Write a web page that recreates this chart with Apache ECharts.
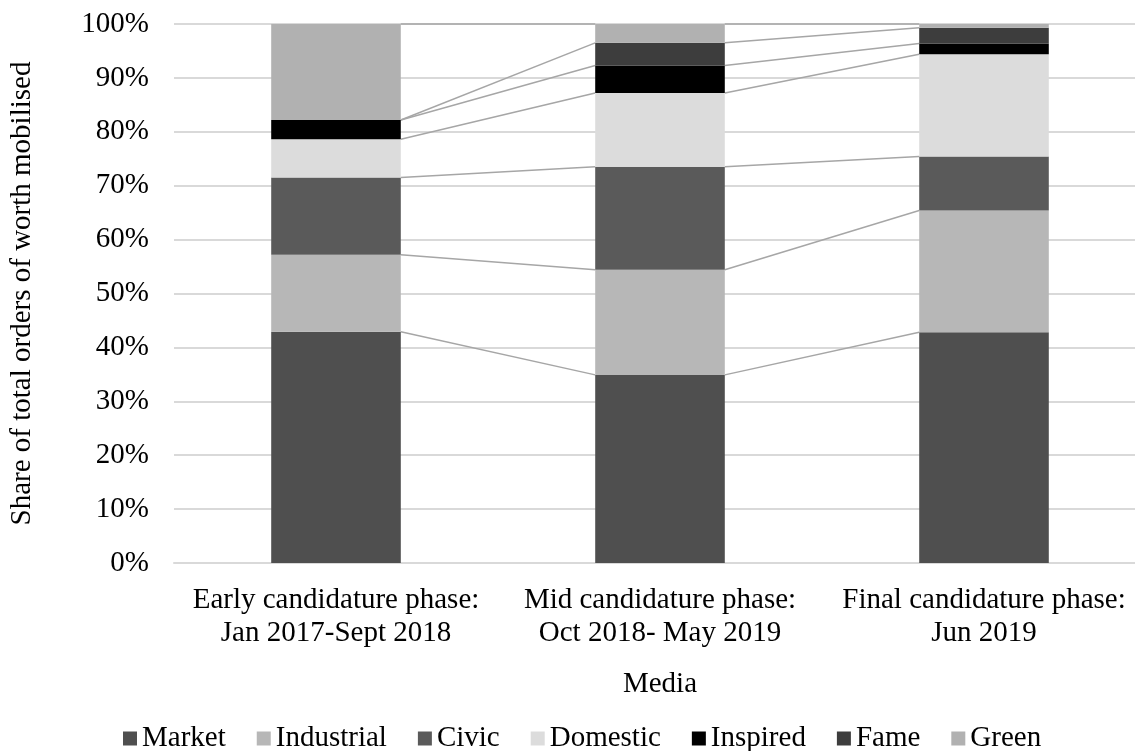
<!DOCTYPE html>
<html>
<head>
<meta charset="utf-8">
<script src="https://cdn.jsdelivr.net/npm/echarts@6/dist/echarts.min.js"></script>
<style>
  html, body { margin: 0; padding: 0; background: #fff; overflow: hidden; }
  #chart { width: 1150px; height: 751px; }
</style>
</head>
<body>
<div id="chart"></div>
<script>
// Candidature phases (x-axis categories)
const categories = [
  'Early candidature phase:\nJan 2017-Sept 2018',
  'Mid candidature phase:\nOct 2018- May 2019',
  'Final candidature phase:\nJun 2019'
];

// Share (%) of each order of worth per phase, stacked bottom to top
const seriesNames = ['Market', 'Industrial', 'Civic', 'Domestic', 'Inspired', 'Fame', 'Green'];
const market     = [42.9, 34.9, 42.8];
const industrial = [14.3, 19.5, 22.6];
const civic      = [14.3, 19.1, 10.0];
const domestic   = [7.1, 13.7, 19.0];
const inspired   = [3.6, 5.1, 2.0];
const fame       = [0.0, 4.2, 2.9];
const green      = [17.8, 3.5, 0.7];

const yTicks = [0, 10, 20, 30, 40, 50, 60, 70, 80, 90, 100];

const seriesValues = [market, industrial, civic, domestic, inspired, fame, green];
const colors = ['#4f4f4f', '#b7b7b7', '#5a5a5a', '#dcdcdc', '#000000', '#3d3d3d', '#b1b1b1'];

const BAR_FRACTION = 0.4; // bar width as a share of the category band
const FONT = '"Liberation Serif", "Times New Roman", serif';
const FONT_SIZE = 29;

// Cumulative tops of each stacked segment, used for the connecting series lines
const connectorData = [];
const cum = categories.map(() => 0);
seriesValues.forEach(vals => {
  const tops = vals.map((v, i) => (cum[i] += v));
  for (let i = 0; i < categories.length - 1; i++) {
    connectorData.push([i, tops[i], tops[i + 1]]);
  }
});

const barSeries = seriesNames.map((name, k) => ({
  name,
  type: 'bar',
  stack: 'total',
  barWidth: (BAR_FRACTION * 100) + '%',
  itemStyle: { color: colors[k] },
  data: seriesValues[k],
  z: 3
}));

const connectorSeries = {
  type: 'custom',
  coordinateSystem: 'cartesian2d',
  silent: true,
  z: 2,
  encode: { x: 0, y: [1, 2] },
  data: connectorData,
  renderItem(params, api) {
    const i = api.value(0);
    const p1 = api.coord([i, api.value(1)]);
    const p2 = api.coord([i + 1, api.value(2)]);
    const half = api.size([1, 0])[0] * BAR_FRACTION / 2;
    return {
      type: 'line',
      shape: { x1: p1[0] + half, y1: p1[1], x2: p2[0] - half, y2: p2[1] },
      style: { stroke: '#a6a6a6', lineWidth: 1.5 }
    };
  }
};

const chart = echarts.init(document.getElementById('chart'), null, { renderer: 'canvas' });
chart.setOption({
  animation: false,
  backgroundColor: '#ffffff',
  textStyle: { fontFamily: FONT, color: '#000' },
  grid: { left: 171, top: 24, width: 975, height: 539, containLabel: false },
  legend: {
    data: seriesNames,
    top: 719,
    left: 118,
    icon: 'rect',
    itemWidth: 14,
    itemHeight: 14,
    itemGap: 31,
    textStyle: { fontFamily: FONT, fontSize: FONT_SIZE, color: '#000' }
  },
  xAxis: {
    type: 'category',
    data: categories,
    name: 'Media',
    nameLocation: 'middle',
    nameGap: 107,
    nameTextStyle: { fontFamily: FONT, fontSize: FONT_SIZE, color: '#000' },
    axisLine: { show: true, lineStyle: { color: '#d9d9d9', width: 2 } },
    axisTick: { show: false },
    axisLabel: {
      interval: 0,
      margin: 21,
      fontFamily: FONT,
      fontSize: FONT_SIZE,
      lineHeight: 33,
      color: '#000'
    }
  },
  yAxis: {
    type: 'value',
    min: yTicks[0],
    max: yTicks[yTicks.length - 1],
    interval: yTicks[1] - yTicks[0],
    name: 'Share of total orders of worth mobilised',
    nameLocation: 'middle',
    nameGap: 137,
    nameRotate: 90,
    nameTextStyle: { fontFamily: FONT, fontSize: FONT_SIZE, color: '#000' },
    axisLine: { show: false },
    axisTick: { show: false },
    axisLabel: {
      margin: 25,
      fontFamily: FONT,
      fontSize: FONT_SIZE,
      color: '#000',
      formatter: '{value}%'
    },
    splitLine: { show: true, lineStyle: { color: '#d9d9d9', width: 2 } }
  },
  series: [...barSeries, connectorSeries]
});
</script>
</body>
</html>
